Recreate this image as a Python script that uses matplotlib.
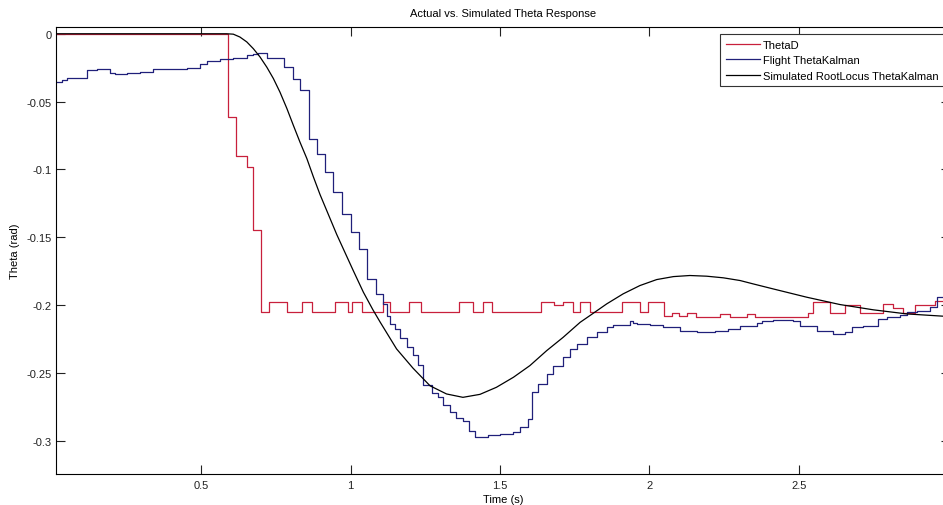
import numpy as np
import matplotlib
matplotlib.use('Agg')
import matplotlib.pyplot as plt

plt.rcParams['font.family'] = ['Liberation Sans', 'DejaVu Sans']

# commanded pitch (step data)
t_d = [0.015, 0.590, 0.617, 0.653, 0.674, 0.699, 0.728, 0.789, 0.837, 0.870,
       0.948, 0.992, 1.004, 1.037, 1.109, 1.132, 1.196, 1.236, 1.363, 1.410,
       1.443, 1.473, 1.637, 1.681, 1.711, 1.744, 1.768, 1.801, 1.908, 1.968,
       1.995, 2.048, 2.075, 2.099, 2.125, 2.155, 2.236, 2.269, 2.326, 2.353,
       2.530, 2.547, 2.604, 2.654, 2.704, 2.781, 2.814, 2.848, 2.888, 2.955, 3.005]
theta_d = [0.0, -0.061, -0.090, -0.098, -0.145, -0.205, -0.198, -0.205, -0.198, -0.205,
           -0.198, -0.205, -0.198, -0.205, -0.198, -0.205, -0.198, -0.205, -0.198, -0.205,
           -0.198, -0.205, -0.198, -0.200, -0.198, -0.205, -0.198, -0.205, -0.198, -0.205,
           -0.198, -0.208, -0.206, -0.208, -0.206, -0.2085, -0.2065, -0.2085, -0.2065, -0.2085,
           -0.2055, -0.198, -0.2055, -0.200, -0.2055, -0.199, -0.202, -0.2055, -0.200, -0.197, -0.197]

# flight kalman estimate (step data)
t_f = [0.015, 0.034, 0.051, 0.120, 0.151, 0.196, 0.213, 0.251, 0.296, 0.340,
       0.452, 0.497, 0.519, 0.564, 0.608, 0.653, 0.675, 0.692, 0.720, 0.778,
       0.807, 0.831, 0.862, 0.887, 0.915, 0.942, 0.971, 1.002, 1.029, 1.056,
       1.085, 1.110, 1.122, 1.132, 1.149, 1.166, 1.189, 1.209, 1.226, 1.242,
       1.273, 1.293, 1.309, 1.333, 1.353, 1.376, 1.396, 1.416, 1.460, 1.500,
       1.543, 1.567, 1.594, 1.607, 1.627, 1.657, 1.677, 1.711, 1.734, 1.758,
       1.791, 1.824, 1.858, 1.878, 1.935, 1.945, 1.957, 2.002, 2.045, 2.102,
       2.159, 2.219, 2.263, 2.303, 2.360, 2.376, 2.413, 2.480, 2.503, 2.560,
       2.614, 2.654, 2.677, 2.714, 2.764, 2.794, 2.838, 2.861, 2.895, 2.938,
       2.962, 3.005]
theta_f = [-0.0356, -0.034, -0.0325, -0.027, -0.0262, -0.0288, -0.030, -0.0288, -0.028, -0.026,
           -0.0252, -0.0221, -0.0201, -0.0189, -0.0179, -0.016, -0.0147, -0.014, -0.0179, -0.0246,
           -0.0332, -0.0418, -0.0774, -0.0885, -0.102, -0.1167, -0.1327, -0.146, -0.1586, -0.1807,
           -0.1917, -0.199, -0.208, -0.214, -0.2175, -0.224, -0.231, -0.237, -0.244, -0.259,
           -0.265, -0.268, -0.274, -0.279, -0.2835, -0.2855, -0.2925, -0.2974, -0.296, -0.295,
           -0.2935, -0.290, -0.284, -0.264, -0.258, -0.2507, -0.2446, -0.238, -0.2323, -0.2286,
           -0.2236, -0.220, -0.216, -0.2146, -0.2114, -0.213, -0.2139, -0.215, -0.216, -0.219,
           -0.220, -0.219, -0.2175, -0.2151, -0.2135, -0.2114, -0.211, -0.212, -0.2151, -0.2188,
           -0.2212, -0.2195, -0.2163, -0.2151, -0.210, -0.2089, -0.2075, -0.2053, -0.204, -0.2016,
           -0.194, -0.194]

# simulated root locus response
t_s = [0.015, 0.586, 0.608, 0.630, 0.653, 0.675, 0.697, 0.720, 0.742, 0.764,
       0.787, 0.809, 0.831, 0.854, 0.876, 0.898, 0.954, 1.009, 1.043, 1.075,
       1.099, 1.154, 1.209, 1.266, 1.321, 1.376, 1.433, 1.488, 1.545, 1.600,
       1.656, 1.711, 1.768, 1.801, 1.857, 1.912, 1.968, 2.024, 2.080, 2.135,
       2.191, 2.247, 2.303, 2.347, 2.414, 2.526, 2.637, 2.749, 2.860, 3.005]
theta_s = [0.0, 0.0, -0.0003, -0.0024, -0.006, -0.011, -0.017, -0.0246, -0.033, -0.043,
           -0.055, -0.0676, -0.0799, -0.092, -0.1056, -0.1185, -0.148, -0.1745, -0.1905, -0.2035,
           -0.2125, -0.2323, -0.2465, -0.2595, -0.2655, -0.2680, -0.2658, -0.2606, -0.2532, -0.2446,
           -0.2336, -0.2238, -0.2127, -0.2077, -0.1991, -0.1917, -0.1856, -0.1812, -0.1790, -0.1782,
           -0.1787, -0.1799, -0.1819, -0.1844, -0.1881, -0.1942, -0.1996, -0.2035, -0.2065, -0.2085]

fig = plt.figure(figsize=(9.43, 5.06), dpi=100)
ax = fig.add_axes([0.0594, 0.0613, 0.948, 0.8834])

ax.plot(t_d, theta_d, color='#c8203c', lw=0.9, drawstyle='steps-post', label='ThetaD')
ax.plot(t_f, theta_f, color='#20207a', lw=0.9, drawstyle='steps-post', label='Flight ThetaKalman')
ax.plot(t_s, theta_s, color='#000000', lw=0.9, label='Simulated RootLocus ThetaKalman')

ax.set_xlim(0.015, 3.005)
ax.set_ylim(-0.3245, 0.005)
ax.set_xticks([0.5, 1, 1.5, 2, 2.5])
ax.set_xticklabels(['0.5', '1', '1.5', '2', '2.5'])
ax.set_yticks([0, -0.05, -0.1, -0.15, -0.2, -0.25, -0.3])
ax.set_yticklabels(['0', '-0.05', '-0.1', '-0.15', '-0.2', '-0.25', '-0.3'])
ax.tick_params(direction='in', length=6.5, width=0.8, labelsize=8, colors='#222222',
               top=True, right=True)
ax.tick_params(axis='x', pad=4)
ax.tick_params(axis='y', pad=3)
for s in ax.spines.values():
    s.set_linewidth(0.8)

ax.set_title('Actual vs. Simulated Theta Response', fontsize=8, pad=8)
ax.set_xlabel('Time (s)', fontsize=8, labelpad=3)
ax.set_ylabel('Theta (rad)', fontsize=8, labelpad=5)

leg = ax.legend(loc='upper right', bbox_to_anchor=(0.993, 0.9843), borderaxespad=0,
                fontsize=8, handlelength=3.1, labelspacing=0.5, handletextpad=0.2,
                borderpad=0.5, fancybox=False, framealpha=1)
leg.get_frame().set_edgecolor('#333333')
leg.get_frame().set_linewidth(0.8)

fig.savefig('out.png', dpi=100)
